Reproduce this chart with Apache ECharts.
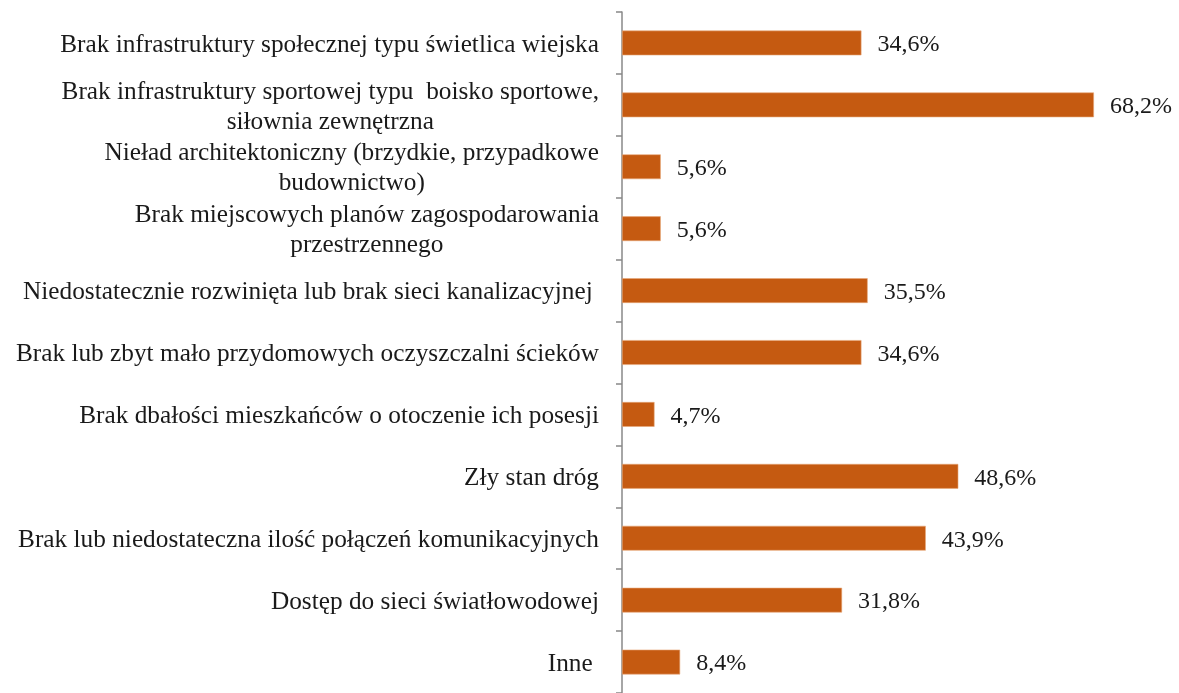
<!DOCTYPE html>
<html>
<head>
<meta charset="utf-8">
<script src="https://cdn.jsdelivr.net/npm/echarts@6/dist/echarts.min.js"></script>
<style>
  html, body { margin: 0; padding: 0; background: #ffffff; }
  #chart { width: 1179px; height: 693px; }
</style>
</head>
<body>
<div id="chart"></div>
<script>
// Problemy wskazane przez mieszkańców (odsetek odpowiedzi)
const categories = [
  'Brak infrastruktury społecznej typu świetlica wiejska',
  'Brak infrastruktury sportowej typu  boisko sportowe,\nsiłownia zewnętrzna',
  'Nieład architektoniczny (brzydkie, przypadkowe\nbudownictwo)',
  'Brak miejscowych planów zagospodarowania\nprzestrzennego',
  'Niedostatecznie rozwinięta lub brak sieci kanalizacyjnej ',
  'Brak lub zbyt mało przydomowych oczyszczalni ścieków',
  'Brak dbałości mieszkańców o otoczenie ich posesji',
  'Zły stan dróg',
  'Brak lub niedostateczna ilość połączeń komunikacyjnych',
  'Dostęp do sieci światłowodowej',
  'Inne '
];
const values = [34.6, 68.2, 5.6, 5.6, 35.5, 34.6, 4.7, 48.6, 43.9, 31.8, 8.4];

const FONT = '"Liberation Serif", "DejaVu Serif", serif';
const chart = echarts.init(document.getElementById('chart'), null, { renderer: 'canvas' });

chart.setOption({
  animation: false,
  backgroundColor: '#ffffff',
  grid: { left: 622, top: 12, width: 484.4, height: 687.5, containLabel: false },
  xAxis: {
    type: 'value',
    min: 0,
    max: 70,
    show: false
  },
  yAxis: {
    type: 'category',
    data: categories,
    inverse: true,
    axisLine: { show: true, lineStyle: { color: '#888888', width: 1.5 } },
    axisTick: { show: true, inside: false, length: 6, lineStyle: { color: '#888888', width: 1.5 } },
    axisLabel: {
      margin: 23,
      color: '#1a1a1a',
      align: 'right',
      padding: [4, 0, 0, 0],
      // each line centred within the right-aligned label block
      formatter: v => v.split('\n').map(s => '{c|' + s + '}').join('\n'),
      rich: {
        c: {
          align: 'center',
          fontFamily: FONT,
          fontSize: 25.3,
          lineHeight: 30,
          color: '#1a1a1a'
        }
      }
    },
    splitLine: { show: false }
  },
  series: [{
    type: 'bar',
    data: values,
    barCategoryGap: '60%',
    itemStyle: { color: '#C55A11', borderColor: '#E8A878', borderWidth: 0.6 },
    label: {
      show: true,
      position: 'right',
      distance: 16,
      offset: [0, 2],
      fontFamily: FONT,
      fontSize: 24,
      color: '#1a1a1a',
      formatter: p => p.value.toFixed(1).replace('.', ',') + '%'
    }
  }]
});
</script>
</body>
</html>
